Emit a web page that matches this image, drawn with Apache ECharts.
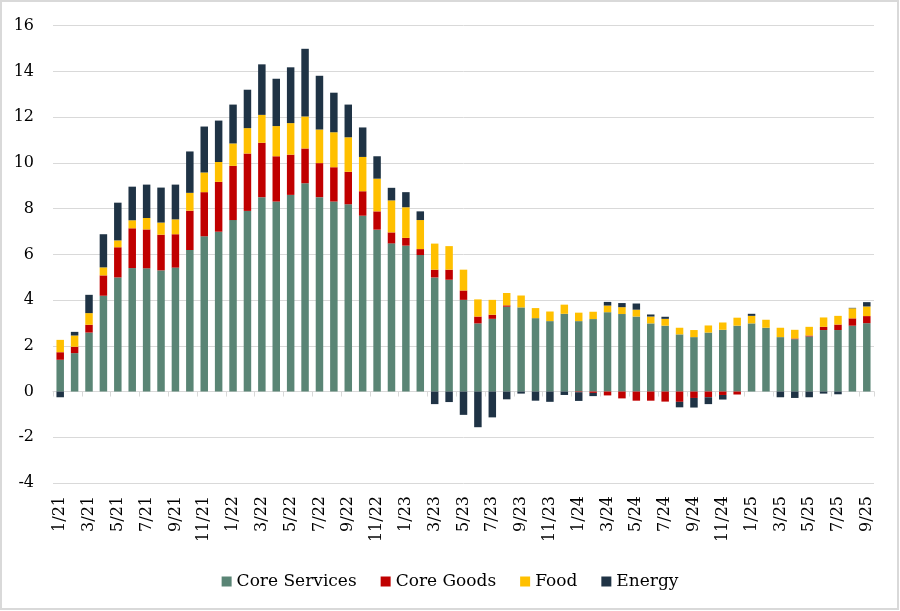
<!DOCTYPE html>
<html>
<head>
<meta charset="utf-8">
<script src="https://cdn.jsdelivr.net/npm/echarts@6/dist/echarts.min.js"></script>
<style>
html,body{margin:0;padding:0;background:#fff;}
#chart{width:900px;height:611px;}
</style>
</head>
<body>
<div id="chart"></div>
<script>
const categories = ['1/21','2/21','3/21','4/21','5/21','6/21','7/21','8/21','9/21','10/21','11/21','12/21',
  '1/22','2/22','3/22','4/22','5/22','6/22','7/22','8/22','9/22','10/22','11/22','12/22',
  '1/23','2/23','3/23','4/23','5/23','6/23','7/23','8/23','9/23','10/23','11/23','12/23',
  '1/24','2/24','3/24','4/24','5/24','6/24','7/24','8/24','9/24','10/24','11/24','12/24',
  '1/25','2/25','3/25','4/25','5/25','6/25','7/25','8/25','9/25'];

const coreServices = [1.39,1.68,2.58,4.19,4.99,5.40,5.39,5.30,5.42,6.19,6.79,6.99,
  7.50,7.90,8.50,8.31,8.60,9.11,8.50,8.31,8.19,7.69,7.08,6.48,
  6.38,5.97,4.99,4.89,4.01,2.98,3.18,3.71,3.68,3.21,3.08,3.40,
  3.08,3.17,3.47,3.39,3.28,2.98,2.88,2.50,2.38,2.58,2.70,2.88,
  2.98,2.79,2.38,2.29,2.41,2.69,2.69,2.88,2.99];

const coreGoods = [0.33,0.28,0.34,0.89,1.32,1.74,1.70,1.56,1.46,1.72,1.93,2.18,
  2.37,2.51,2.38,1.98,1.76,1.52,1.49,1.50,1.42,1.07,0.80,0.48,
  0.34,0.26,0.34,0.44,0.41,0.30,0.18,0.06,0,0,0,0,
  -0.03,-0.06,-0.17,-0.30,-0.40,-0.40,-0.44,-0.45,-0.28,-0.25,-0.15,-0.13,
  0,0,0,0.03,0.04,0.14,0.24,0.32,0.31];

const food = [0.54,0.49,0.51,0.35,0.30,0.35,0.50,0.53,0.65,0.78,0.86,0.87,
  0.98,1.11,1.22,1.32,1.38,1.40,1.47,1.53,1.51,1.50,1.43,1.40,
  1.34,1.27,1.14,1.03,0.91,0.75,0.65,0.54,0.52,0.44,0.42,0.40,
  0.37,0.32,0.29,0.30,0.30,0.30,0.30,0.29,0.31,0.31,0.32,0.35,
  0.33,0.35,0.41,0.38,0.38,0.41,0.38,0.44,0.42];

const energy = [-0.25,0.16,0.80,1.45,1.65,1.47,1.46,1.53,1.52,1.81,2.01,1.81,
  1.70,1.68,2.21,2.07,2.44,2.96,2.35,1.73,1.43,1.29,0.98,0.55,
  0.66,0.38,-0.55,-0.46,-1.02,-1.56,-1.13,-0.34,-0.09,-0.40,-0.45,-0.15,
  -0.38,-0.14,0.16,0.18,0.27,0.09,0.09,-0.24,-0.42,-0.30,-0.20,0,
  0.09,0,-0.25,-0.28,-0.25,-0.09,-0.12,0.02,0.19];

const yMin = -4, yMax = 16, yStep = 2;

const FONT = '"DejaVu Serif", "Liberation Serif", serif';
const chart = echarts.init(document.getElementById('chart'), null, {renderer: 'canvas'});

function bar(name, data, color) {
  return {
    name: name, type: 'bar', stack: 'total', data: data,
    xAxisIndex: 0, barWidth: '52%',
    itemStyle: {color: color},
    emphasis: {disabled: true}
  };
}

chart.setOption({
  animation: false,
  textStyle: {fontFamily: FONT},
  graphic: [{
    type: 'rect', silent: true,
    shape: {x: 1, y: 1, width: 897, height: 608},
    style: {fill: 'none', stroke: '#d9d9d9', lineWidth: 2}
  }],
  grid: {left: 53, right: 26, top: 25.7, bottom: 128, containLabel: false},
  legend: {
    top: 568, left: 'center',
    itemWidth: 10, itemHeight: 10, itemGap: 24, icon: 'rect',
    textStyle: {fontFamily: FONT, fontSize: 17, color: '#000'},
    data: ['Core Services', 'Core Goods', 'Food', 'Energy']
  },
  xAxis: [{
    type: 'category', data: categories, position: 'bottom',
    axisLine: {show: true, onZero: true, lineStyle: {color: '#d9d9d9', width: 1}},
    axisTick: {show: true, interval: 1, length: 5, lineStyle: {color: '#d9d9d9'}},
    axisLabel: {show: false},
    splitLine: {show: false}
  }, {
    type: 'category', data: categories, position: 'bottom',
    axisLine: {show: false, onZero: false},
    axisTick: {show: false},
    axisLabel: {show: true, interval: 1, rotate: 90, margin: 13,
      fontFamily: FONT, fontSize: 16, color: '#000'},
    splitLine: {show: false}
  }],
  yAxis: {
    type: 'value', min: yMin, max: yMax, interval: yStep,
    axisLine: {show: false}, axisTick: {show: false},
    axisLabel: {margin: 19, fontFamily: FONT, fontSize: 16, color: '#000'},
    splitLine: {show: true, lineStyle: {color: '#d9d9d9', width: 1}}
  },
  series: [
    bar('Core Services', coreServices, '#5a8575'),
    bar('Core Goods', coreGoods, '#c00000'),
    bar('Food', food, '#ffc000'),
    bar('Energy', energy, '#1f3345')
  ]
});
</script>
</body>
</html>
